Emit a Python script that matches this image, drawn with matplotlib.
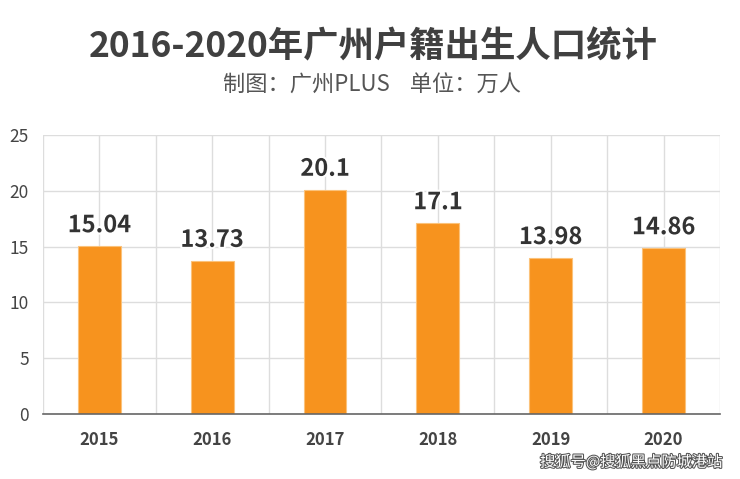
import numpy as np
import matplotlib.pyplot as plt
import matplotlib.patheffects as pe

plt.rcParams['font.family'] = ['Noto Sans CJK SC', 'DejaVu Sans']

# data
years = ['2015', '2016', '2017', '2018', '2019', '2020']
births = [15.04, 13.73, 20.1, 17.1, 13.98, 14.86]
labels = ['15.04', '13.73', '20.1', '17.1', '13.98', '14.86']
yticks = [0, 5, 10, 15, 20, 25]

fig = plt.figure(figsize=(7.4, 4.79), dpi=100)
ax = fig.add_axes([0.058, 0.1357, 0.915, 0.5825])

x = np.arange(len(years))
ax.bar(x, births, width=0.38, color='#F7931E', edgecolor='#FBC27A',
       linewidth=0.8, zorder=3)

for xi, v, lab in zip(x, births, labels):
    ax.text(xi, v + 0.8, lab, ha='center', va='bottom', fontsize=17,
            fontweight='bold', color='#333333', zorder=4,
            path_effects=[pe.withStroke(linewidth=3, foreground='white')])

ax.set_xlim(-0.5, len(years) - 0.5)
ax.set_ylim(0, 25)
ax.set_yticks(yticks)
ax.set_xticks(x)
ax.set_xticklabels(years, fontsize=12, fontweight='bold', color='#444444')
ax.set_xticks(np.arange(-0.5, len(years), 1.0), minor=True)
ax.tick_params(axis='y', labelsize=12.5, labelcolor='#444444', length=0, pad=10)
ax.tick_params(axis='x', length=0, pad=12)
ax.tick_params(which='minor', length=0)

ax.grid(True, which='both', color='#DDDDDD', linewidth=1, zorder=0)
ax.set_axisbelow(True)
for s in ['top', 'right', 'left']:
    ax.spines[s].set_visible(False)
ax.spines['bottom'].set_color('#666666')
ax.spines['bottom'].set_linewidth(1.2)
ax.spines['bottom'].set_zorder(5)

fig.text(0.505, 0.902, '2016-2020年广州户籍出生人口统计', ha='center', va='center',
         fontsize=25.5, fontweight='bold', color='#404040')
fig.text(0.503, 0.822, '制图：广州PLUS    单位：万人', ha='center', va='center',
         fontsize=16, color='#555555')

fig.text(0.976, 0.035, '搜狐号@搜狐黑点防城港站', ha='right', va='center',
         fontsize=11, color='white',
         path_effects=[pe.withStroke(linewidth=1.5, foreground='#555555')])

plt.savefig('out.png', dpi=100)
